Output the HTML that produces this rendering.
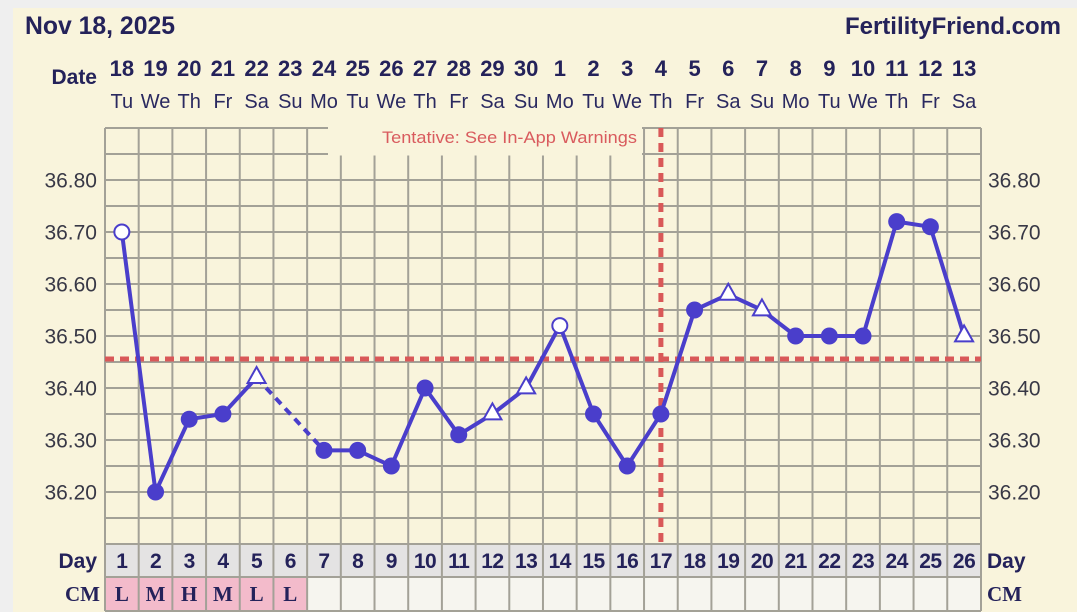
<!DOCTYPE html>
<html><head><meta charset="utf-8"><style>
html,body{margin:0;padding:0;width:1077px;height:612px;overflow:hidden;background:#efefef;}
svg{display:block;}
</style></head><body>
<svg width="1077" height="612" viewBox="0 0 1077 612" xmlns="http://www.w3.org/2000/svg">
<rect x="0" y="0" width="1077" height="612" fill="#efefef"/>
<rect x="13" y="8" width="1064" height="604" fill="#f9f4dc"/>

<rect x="105" y="544" width="876" height="33" fill="#e4e3e3"/>
<rect x="105" y="577" width="876" height="35" fill="#f6f5ef"/>
<rect x="105" y="577" width="202" height="34" fill="#f3bbcb"/>

<g stroke="#a3a197" stroke-width="2" fill="none">
<path d="M105 128V611M138.69 128V611M172.38 128V611M206.07 128V611M239.76 128V611M273.45 128V611M307.14 128V611M340.83 128V611M374.52 128V611M408.21 128V611M441.9 128V611M475.59 128V611M509.28 128V611M542.97 128V611M576.66 128V611M610.35 128V611M644.04 128V611M677.73 128V611M711.42 128V611M745.11 128V611M778.8 128V611M812.49 128V611M846.18 128V611M879.87 128V611M913.56 128V611M947.25 128V611M981 128V611"/>
<path d="M105 128H981M105 154H981M105 180H981M105 206H981M105 232H981M105 258H981M105 284H981M105 310H981M105 336H981M105 362H981M105 388H981M105 414H981M105 440H981M105 466H981M105 492H981M105 518H981M105 544H981M105 577H981M105 611H981"/>
</g>
<rect x="328" y="126" width="314" height="29.5" fill="#f9f4dc"/>
<text x="382" y="143" font-family="Liberation Sans, sans-serif" font-size="17" fill="#d95b5e" textLength="255" lengthAdjust="spacingAndGlyphs">Tentative: See In-App Warnings</text>

<line x1="105" y1="359" x2="981" y2="359" stroke="#d95858" stroke-width="5" stroke-dasharray="9 6"/>
<line x1="660.9" y1="128" x2="660.9" y2="542" stroke="#d95858" stroke-width="5" stroke-dasharray="9 6"/>

<text x="25" y="34" font-family="Liberation Sans, sans-serif" font-weight="bold" font-size="25" fill="#24225a" textLength="150" lengthAdjust="spacingAndGlyphs">Nov 18, 2025</text>
<text x="1061" y="34" text-anchor="end" font-family="Liberation Sans, sans-serif" font-weight="bold" font-size="24" fill="#24225a">FertilityFriend.com</text>

<text x="97" y="84" text-anchor="end" font-family="Liberation Sans, sans-serif" font-weight="bold" font-size="21" fill="#24225a">Date</text>
<g font-family="Liberation Sans, sans-serif" font-weight="bold" font-size="22" fill="#24225a" text-anchor="middle">
<text x="121.85" y="76">18</text><text x="155.54" y="76">19</text><text x="189.23" y="76">20</text><text x="222.92" y="76">21</text><text x="256.6" y="76">22</text><text x="290.3" y="76">23</text><text x="323.99" y="76">24</text><text x="357.68" y="76">25</text><text x="391.37" y="76">26</text><text x="425.06" y="76">27</text><text x="458.75" y="76">28</text><text x="492.44" y="76">29</text><text x="526.13" y="76">30</text><text x="559.82" y="76">1</text><text x="593.5" y="76">2</text><text x="627.19" y="76">3</text><text x="660.88" y="76">4</text><text x="694.57" y="76">5</text><text x="728.26" y="76">6</text><text x="761.95" y="76">7</text><text x="795.64" y="76">8</text><text x="829.33" y="76">9</text><text x="863.02" y="76">10</text><text x="896.7" y="76">11</text><text x="930.39" y="76">12</text><text x="964.08" y="76">13</text>
</g>
<g font-family="Liberation Sans, sans-serif" font-size="20" fill="#2a2960" text-anchor="middle">
<text x="121.85" y="108">Tu</text><text x="155.54" y="108">We</text><text x="189.23" y="108">Th</text><text x="222.92" y="108">Fr</text><text x="256.6" y="108">Sa</text><text x="290.3" y="108">Su</text><text x="323.99" y="108">Mo</text><text x="357.68" y="108">Tu</text><text x="391.37" y="108">We</text><text x="425.06" y="108">Th</text><text x="458.75" y="108">Fr</text><text x="492.44" y="108">Sa</text><text x="526.13" y="108">Su</text><text x="559.82" y="108">Mo</text><text x="593.5" y="108">Tu</text><text x="627.19" y="108">We</text><text x="660.88" y="108">Th</text><text x="694.57" y="108">Fr</text><text x="728.26" y="108">Sa</text><text x="761.95" y="108">Su</text><text x="795.64" y="108">Mo</text><text x="829.33" y="108">Tu</text><text x="863.02" y="108">We</text><text x="896.7" y="108">Th</text><text x="930.39" y="108">Fr</text><text x="964.08" y="108">Sa</text>
</g>

<g font-family="Liberation Sans, sans-serif" font-size="21" fill="#383846">
<g text-anchor="end">
<text x="97" y="187.5">36.80</text><text x="97" y="239.5">36.70</text><text x="97" y="291.5">36.60</text><text x="97" y="343.5">36.50</text><text x="97" y="395.5">36.40</text><text x="97" y="447.5">36.30</text><text x="97" y="499.5">36.20</text>
</g>
<text x="988" y="187.5">36.80</text><text x="988" y="239.5">36.70</text><text x="988" y="291.5">36.60</text><text x="988" y="343.5">36.50</text><text x="988" y="395.5">36.40</text><text x="988" y="447.5">36.30</text><text x="988" y="499.5">36.20</text>
</g>

<text x="97" y="568" text-anchor="end" font-family="Liberation Sans, sans-serif" font-weight="bold" font-size="21" fill="#24225a">Day</text>
<text x="987" y="568" font-family="Liberation Sans, sans-serif" font-weight="bold" font-size="21" fill="#24225a">Day</text>
<g font-family="Liberation Sans, sans-serif" font-weight="bold" font-size="21" fill="#24225a" text-anchor="middle" letter-spacing="-0.5">
<text x="121.85" y="568">1</text><text x="155.54" y="568">2</text><text x="189.23" y="568">3</text><text x="222.92" y="568">4</text><text x="256.6" y="568">5</text><text x="290.3" y="568">6</text><text x="323.99" y="568">7</text><text x="357.68" y="568">8</text><text x="391.37" y="568">9</text><text x="425.06" y="568">10</text><text x="458.75" y="568">11</text><text x="492.44" y="568">12</text><text x="526.13" y="568">13</text><text x="559.82" y="568">14</text><text x="593.5" y="568">15</text><text x="627.19" y="568">16</text><text x="660.88" y="568">17</text><text x="694.57" y="568">18</text><text x="728.26" y="568">19</text><text x="761.95" y="568">20</text><text x="795.64" y="568">21</text><text x="829.33" y="568">22</text><text x="863.02" y="568">23</text><text x="896.7" y="568">24</text><text x="930.39" y="568">25</text><text x="964.08" y="568">26</text>
</g>

<g font-family="Liberation Serif, serif" font-weight="bold" font-size="21" fill="#24225a">
<text x="100" y="601" text-anchor="end">CM</text>
<text x="987" y="601">CM</text>
<g text-anchor="middle">
<text x="121.85" y="601">L</text><text x="155.54" y="601">M</text><text x="189.23" y="601">H</text><text x="222.92" y="601">M</text><text x="256.6" y="601">L</text><text x="290.3" y="601">L</text>
</g>
</g>

<g stroke="#4a3ecb" stroke-width="4" fill="none" stroke-linejoin="round" stroke-linecap="round">
<polyline points="121.85,232 155.54,492 189.23,419.2 222.92,414 256.6,377.6"/>
<line x1="256.6" y1="377.6" x2="323.99" y2="450.4" stroke-dasharray="8 6" stroke-linecap="butt"/>
<polyline points="323.99,450.4 357.68,450.4 391.37,466 425.06,388 458.75,434.8 492.44,414 526.13,388 559.82,325.6 593.5,414 627.19,466 660.88,414 694.57,310 728.26,294.4 761.95,310 795.64,336 829.33,336 863.02,336 896.7,221.6 930.39,226.8 964.08,336"/>
</g>
<g fill="#4a3ecb">
<circle cx="155.54" cy="492" r="8.5"/><circle cx="189.23" cy="419.2" r="8.5"/><circle cx="222.92" cy="414" r="8.5"/>
<circle cx="323.99" cy="450.4" r="8.5"/><circle cx="357.68" cy="450.4" r="8.5"/><circle cx="391.37" cy="466" r="8.5"/>
<circle cx="425.06" cy="388" r="8.5"/><circle cx="458.75" cy="434.8" r="8.5"/>
<circle cx="593.5" cy="414" r="8.5"/><circle cx="627.19" cy="466" r="8.5"/><circle cx="660.88" cy="414" r="8.5"/>
<circle cx="694.57" cy="310" r="8.5"/><circle cx="795.64" cy="336" r="8.5"/><circle cx="829.33" cy="336" r="8.5"/><circle cx="863.02" cy="336" r="8.5"/>
<circle cx="896.7" cy="221.6" r="8.5"/><circle cx="930.39" cy="226.8" r="8.5"/>
</g>
<g fill="#ffffff" stroke="#4a3ecb" stroke-width="2">
<circle cx="121.85" cy="232" r="7.5"/>
<circle cx="559.82" cy="325.6" r="7.5"/>
<polygon points="256.6,367 247.6,383 265.6,383"/>
<polygon points="492.44,403.4 483.44,419.4 501.44,419.4"/>
<polygon points="526.13,377.4 517.13,393.4 535.13,393.4"/>
<polygon points="728.26,283.8 719.26,299.8 737.26,299.8"/>
<polygon points="761.95,299.4 752.95,315.4 770.95,315.4"/>
<polygon points="964.08,325.4 955.08,341.4 973.08,341.4"/>
</g>
</svg>
</body></html>
